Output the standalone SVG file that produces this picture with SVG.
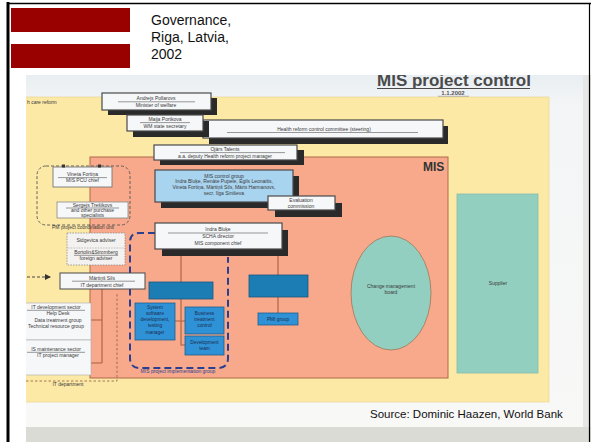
<svg xmlns="http://www.w3.org/2000/svg" width="591" height="442" viewBox="0 0 591 442">
<style>
text{font-family:"Liberation Sans",Arial,sans-serif;fill:#3a3a3a}
.t{font-size:5px;text-anchor:middle}
.tb{font-size:4.8px;text-anchor:middle;fill:#1b2c4e}
.sh{fill:#2a2a2a}
.wb{fill:#f6f7f9;stroke:#4a4a4a;stroke-width:1.2}
.ul{stroke:#555;stroke-width:0.6}
.con{stroke:#a6613f;stroke-width:1.1;fill:none}
.blue1{fill:#2f92d6;stroke:#1f5f8f;stroke-width:0.8}
.blue2{fill:#1b7db4;stroke:#1a557f;stroke-width:0.8}
.dash{fill:none;stroke:#555;stroke-width:0.9;stroke-dasharray:3 2}
</style>
<defs>
<linearGradient id="paper" x1="0" y1="0" x2="0" y2="1">
<stop offset="0" stop-color="#e8eef2"/>
<stop offset="0.08" stop-color="#f3f5f6"/>
<stop offset="1" stop-color="#f8f8f7"/>
</linearGradient>
<clipPath id="photo"><rect x="26" y="75" width="565" height="367"/></clipPath>
<marker id="arr" markerWidth="6" markerHeight="6" refX="5" refY="3" orient="auto" markerUnits="userSpaceOnUse">
<path d="M0,0 L6,3 L0,6 Z" fill="#333"/>
</marker>
</defs>
<rect x="0" y="0" width="591" height="442" fill="#ffffff"/>
<g id="header">
<rect x="11" y="8" width="119" height="24" fill="#990000"/>
<rect x="11" y="44" width="119" height="24" fill="#990000"/>
<text x="151" y="25" style="font-size:14px;fill:#111">Governance,</text>
<text x="151" y="42" style="font-size:14px;fill:#111">Riga, Latvia,</text>
<text x="151" y="59" style="font-size:14px;fill:#111">2002</text>
</g>
<g clip-path="url(#photo)">
<rect x="26" y="75" width="559" height="352" fill="url(#paper)"/>
<rect x="583" y="75" width="8" height="367" fill="#e6e7e4"/>
<rect x="26" y="427" width="565" height="15" fill="#dbdbd5"/>
<g id="title">
<text x="377" y="86" style="font-size:17px;font-weight:bold;fill:#4a4a4a">MIS project control</text>
<line x1="377" y1="88.5" x2="530" y2="88.5" stroke="#4a4a4a" stroke-width="1.2"/>
<text x="453" y="95" style="font-size:6px;font-weight:bold;text-anchor:middle;fill:#555">1.1.2002</text>
<line x1="438" y1="96.3" x2="469" y2="96.3" stroke="#555" stroke-width="0.5"/>
</g>
<rect id="health-care-reform" x="20" y="97" width="529" height="305" fill="#fce9a6" stroke="#e8d08a" stroke-width="0.6"/>
<text x="27" y="104" style="font-size:5px">h care reform</text>
<g id="mis">
<rect x="90" y="157" width="358" height="221" fill="#f8a98b" stroke="#b0684a" stroke-width="1"/>
<text x="423" y="171" style="font-size:12px;font-weight:bold;fill:#333">MIS</text>
</g>
<g id="change-board">
<ellipse cx="391" cy="293" rx="40" ry="57" fill="#93cfc0" stroke="#a27656" stroke-width="0.8"/>
<text class="t" x="391" y="288">Change management</text>
<text class="t" x="391" y="294">board</text>
</g>
<g id="supplier">
<rect x="457" y="194" width="81" height="179" fill="#93cfbf" stroke="#86bcae" stroke-width="0.8"/>
<text class="t" x="498" y="285">Supplier</text>
</g>
<g id="connectors">
<path class="con" d="M102,289 V363 M91,320 H102 M91,363 H102"/>
<path class="con" d="M181,256 V345 H185 M175,321 H185"/>
<path class="con" d="M278,256 V275 M278,297 V313"/>
<path d="M155,233 H139 Q130,233 130,242 V358 Q130,368 140,368 H218 Q228,368 228,358 V257" fill="none" stroke="#2b3f8f" stroke-width="2" stroke-dasharray="7 4"/>
<path d="M27,277 H50" fill="none" stroke="#333" stroke-width="0.9" stroke-dasharray="3 2" marker-end="url(#arr)"/>
<path d="M26,381 H117 V292" fill="none" stroke="#9a6a4a" stroke-width="0.9" stroke-dasharray="2.5 2"/>
<text x="68" y="386" style="font-size:5px;text-anchor:middle">IT department</text>
<text x="178" y="373" style="font-size:5px;text-anchor:middle;fill:#2b3f8f">MIS project implementation group</text>
</g>
<g id="pcu">
<rect class="dash" x="37" y="166" width="93" height="59" rx="9"/>
<text x="83" y="229" style="font-size:5px;text-anchor:middle">PM project coordination unit</text>
</g>
<g id="andrejs">
<rect class="sh" x="108" y="98" width="109" height="17"/>
<rect class="wb" x="102" y="93" width="109" height="17"/>
<text class="t" x="156" y="100">Andrejs Pollarovs</text>
<line class="ul" x1="118" y1="101.8" x2="195" y2="101.8"/>
<text class="t" x="156" y="107">Minister of welfare</text>
</g>
<g id="health-committee">
<rect class="sh" x="209" y="126" width="239" height="18"/>
<rect class="wb" x="203" y="120" width="240" height="18"/>
<text class="t" x="324" y="131">Health reform control committee (steering)</text>
<line class="ul" x1="227" y1="132.5" x2="418" y2="132.5"/>
</g>
<g id="maija">
<rect class="sh" x="133" y="121" width="76" height="16"/>
<rect class="wb" x="127" y="115" width="76" height="16"/>
<text class="t" x="165" y="121">Maija Portkova</text>
<line class="ul" x1="140" y1="122.6" x2="190" y2="122.6"/>
<text class="t" x="165" y="128">WM state secretary</text>
</g>
<g id="ojars">
<rect class="sh" x="160" y="150" width="144" height="15"/>
<rect class="wb" x="154" y="145" width="143" height="15"/>
<text class="t" x="225" y="151">Ojārs Talents</text>
<line class="ul" x1="180" y1="152.6" x2="285" y2="152.6"/>
<text class="t" x="225" y="158">a.a. deputy Health reform project manager</text>
</g>
<g id="mis-control-group">
<rect class="sh" x="161" y="176" width="138" height="32"/>
<rect x="155" y="170" width="138" height="32" fill="#a9d4ef" stroke="#4a4a4a" stroke-width="1.2"/>
<text class="t" x="224" y="177.5">MIS control group</text>
<text class="t" x="224" y="183">Indra Bluķe, Renāte Pupele, Egils Leonaitis,</text>
<text class="t" x="224" y="189">Vineta Fortiņa, Mārtiņš Sils, Māris Harmanovs,</text>
<text class="t" x="224" y="195">secr. Ilga Siniševa</text>
</g>
<g id="evaluation">
<rect class="sh" x="275" y="203" width="67" height="14"/>
<rect class="wb" x="268" y="196" width="67" height="14"/>
<text class="t" x="301" y="202">Evaluation</text>
<text class="t" x="301" y="208">commission</text>
</g>
<g id="indra">
<rect class="sh" x="162" y="230" width="126" height="26"/>
<rect class="wb" x="155" y="223" width="127" height="26"/>
<text class="t" x="218" y="230.5">Indra Bluķe</text>
<line class="ul" x1="168" y1="233" x2="268" y2="233"/>
<text class="t" x="218" y="238">SCHA director</text>
<text class="t" x="218" y="245">MIS component chief</text>
</g>
<g id="vineta">
<rect x="53" y="167" width="59" height="20" fill="#f6f7f9" stroke="#777" stroke-width="0.9"/>
<rect x="62" y="164.5" width="3" height="3" fill="#333"/>
<rect x="98" y="164.5" width="3" height="3" fill="#333"/>
<text class="t" x="82.5" y="176">Vineta Fortiņa</text>
<line class="ul" x1="58" y1="177.6" x2="107" y2="177.6"/>
<text class="t" x="82.5" y="182">MIS PCU chief</text>
</g>
<g id="sergejs">
<rect x="57" y="202" width="71" height="16" fill="#f6f7f9" stroke="#888" stroke-width="0.8"/>
<text class="t" x="92.5" y="207">Sergejs Trešikovs</text>
<line class="ul" x1="66" y1="208" x2="119" y2="208"/>
<text class="t" x="92.5" y="212">and other purchase</text>
<text class="t" x="92.5" y="217">specialists</text>
</g>
<g id="advisers">
<rect x="67" y="233" width="58" height="32" fill="#f4f2f1" stroke="#888" stroke-width="0.8" stroke-dasharray="1.5 1.2"/>
<line x1="68" y1="248" x2="124" y2="248" stroke="#999" stroke-width="0.6" stroke-dasharray="1.5 1.2"/>
<text class="t" x="96" y="242">Sidgevica adviser</text>
<text class="t" x="96" y="254">Bortolin&amp;Stromberg</text>
<line class="ul" x1="74" y1="255.3" x2="118" y2="255.3"/>
<text class="t" x="96" y="260">foreign adviser</text>
</g>
<g id="martins">
<rect x="60" y="273" width="85" height="16" fill="#f6f7f9" stroke="#4a4a4a" stroke-width="1"/>
<text class="t" x="102" y="279.5">Mārtiņš Sils</text>
<line class="ul" x1="72" y1="281.2" x2="135" y2="281.2"/>
<text class="t" x="102" y="286.5">IT department chief</text>
</g>
<g id="it-dev">
<rect x="20" y="303" width="71" height="37" fill="#f6f7f9" stroke="#aaa" stroke-width="0.6"/>
<text class="t" x="56" y="309">IT development sector</text>
<line class="ul" x1="27" y1="310.3" x2="85" y2="310.3"/>
<text class="t" x="58" y="315">Help Desk</text>
<text class="t" x="58" y="322">Data treatment group</text>
<text class="t" x="56" y="328">Technical resource group</text>
</g>
<g id="is-maint">
<rect x="20" y="340" width="71" height="35" fill="#f6f7f9" stroke="#aaa" stroke-width="0.6"/>
<text class="t" x="56" y="351">IS maintenance sector</text>
<line class="ul" x1="27" y1="352.3" x2="85" y2="352.3"/>
<text class="t" x="58" y="357">IT project manager</text>
</g>
<g id="box-a"><rect class="blue2" x="149" y="282" width="64" height="17"/></g>
<g id="box-system">
<rect class="blue1" x="135" y="303" width="40" height="37"/>
<text class="tb" x="155" y="309">System</text>
<text class="tb" x="155" y="315">software</text>
<text class="tb" x="155" y="321">development,</text>
<text class="tb" x="155" y="327">testing</text>
<text class="tb" x="155" y="334">manager</text>
</g>
<g id="box-business">
<rect class="blue1" x="185" y="307" width="39" height="27"/>
<text class="tb" x="204.5" y="315">Business</text>
<text class="tb" x="204.5" y="321">treatment</text>
<text class="tb" x="204.5" y="327">control</text>
</g>
<g id="box-development">
<rect class="blue1" x="185" y="336" width="39" height="19"/>
<text class="tb" x="204.5" y="344">Development</text>
<text class="tb" x="204.5" y="350">team</text>
</g>
<g id="box-e"><rect class="blue2" x="249" y="275" width="59" height="22"/></g>
<g id="box-pmi">
<rect class="blue1" x="258" y="313" width="40" height="12"/>
<text class="tb" x="278" y="321">PMI group</text>
</g>
</g>
<g id="source">
<text x="370" y="418" style="font-size:11.5px;fill:#111">Source: Dominic Haazen, World Bank</text>
</g>
<g id="frame">
<line x1="8" y1="2" x2="8" y2="442" stroke="#000" stroke-width="3"/>
<line x1="7" y1="3.5" x2="591" y2="3.5" stroke="#000" stroke-width="1.6"/>
<line x1="589.5" y1="3" x2="589.5" y2="442" stroke="#000" stroke-width="1.2"/>
</g>
</svg>
